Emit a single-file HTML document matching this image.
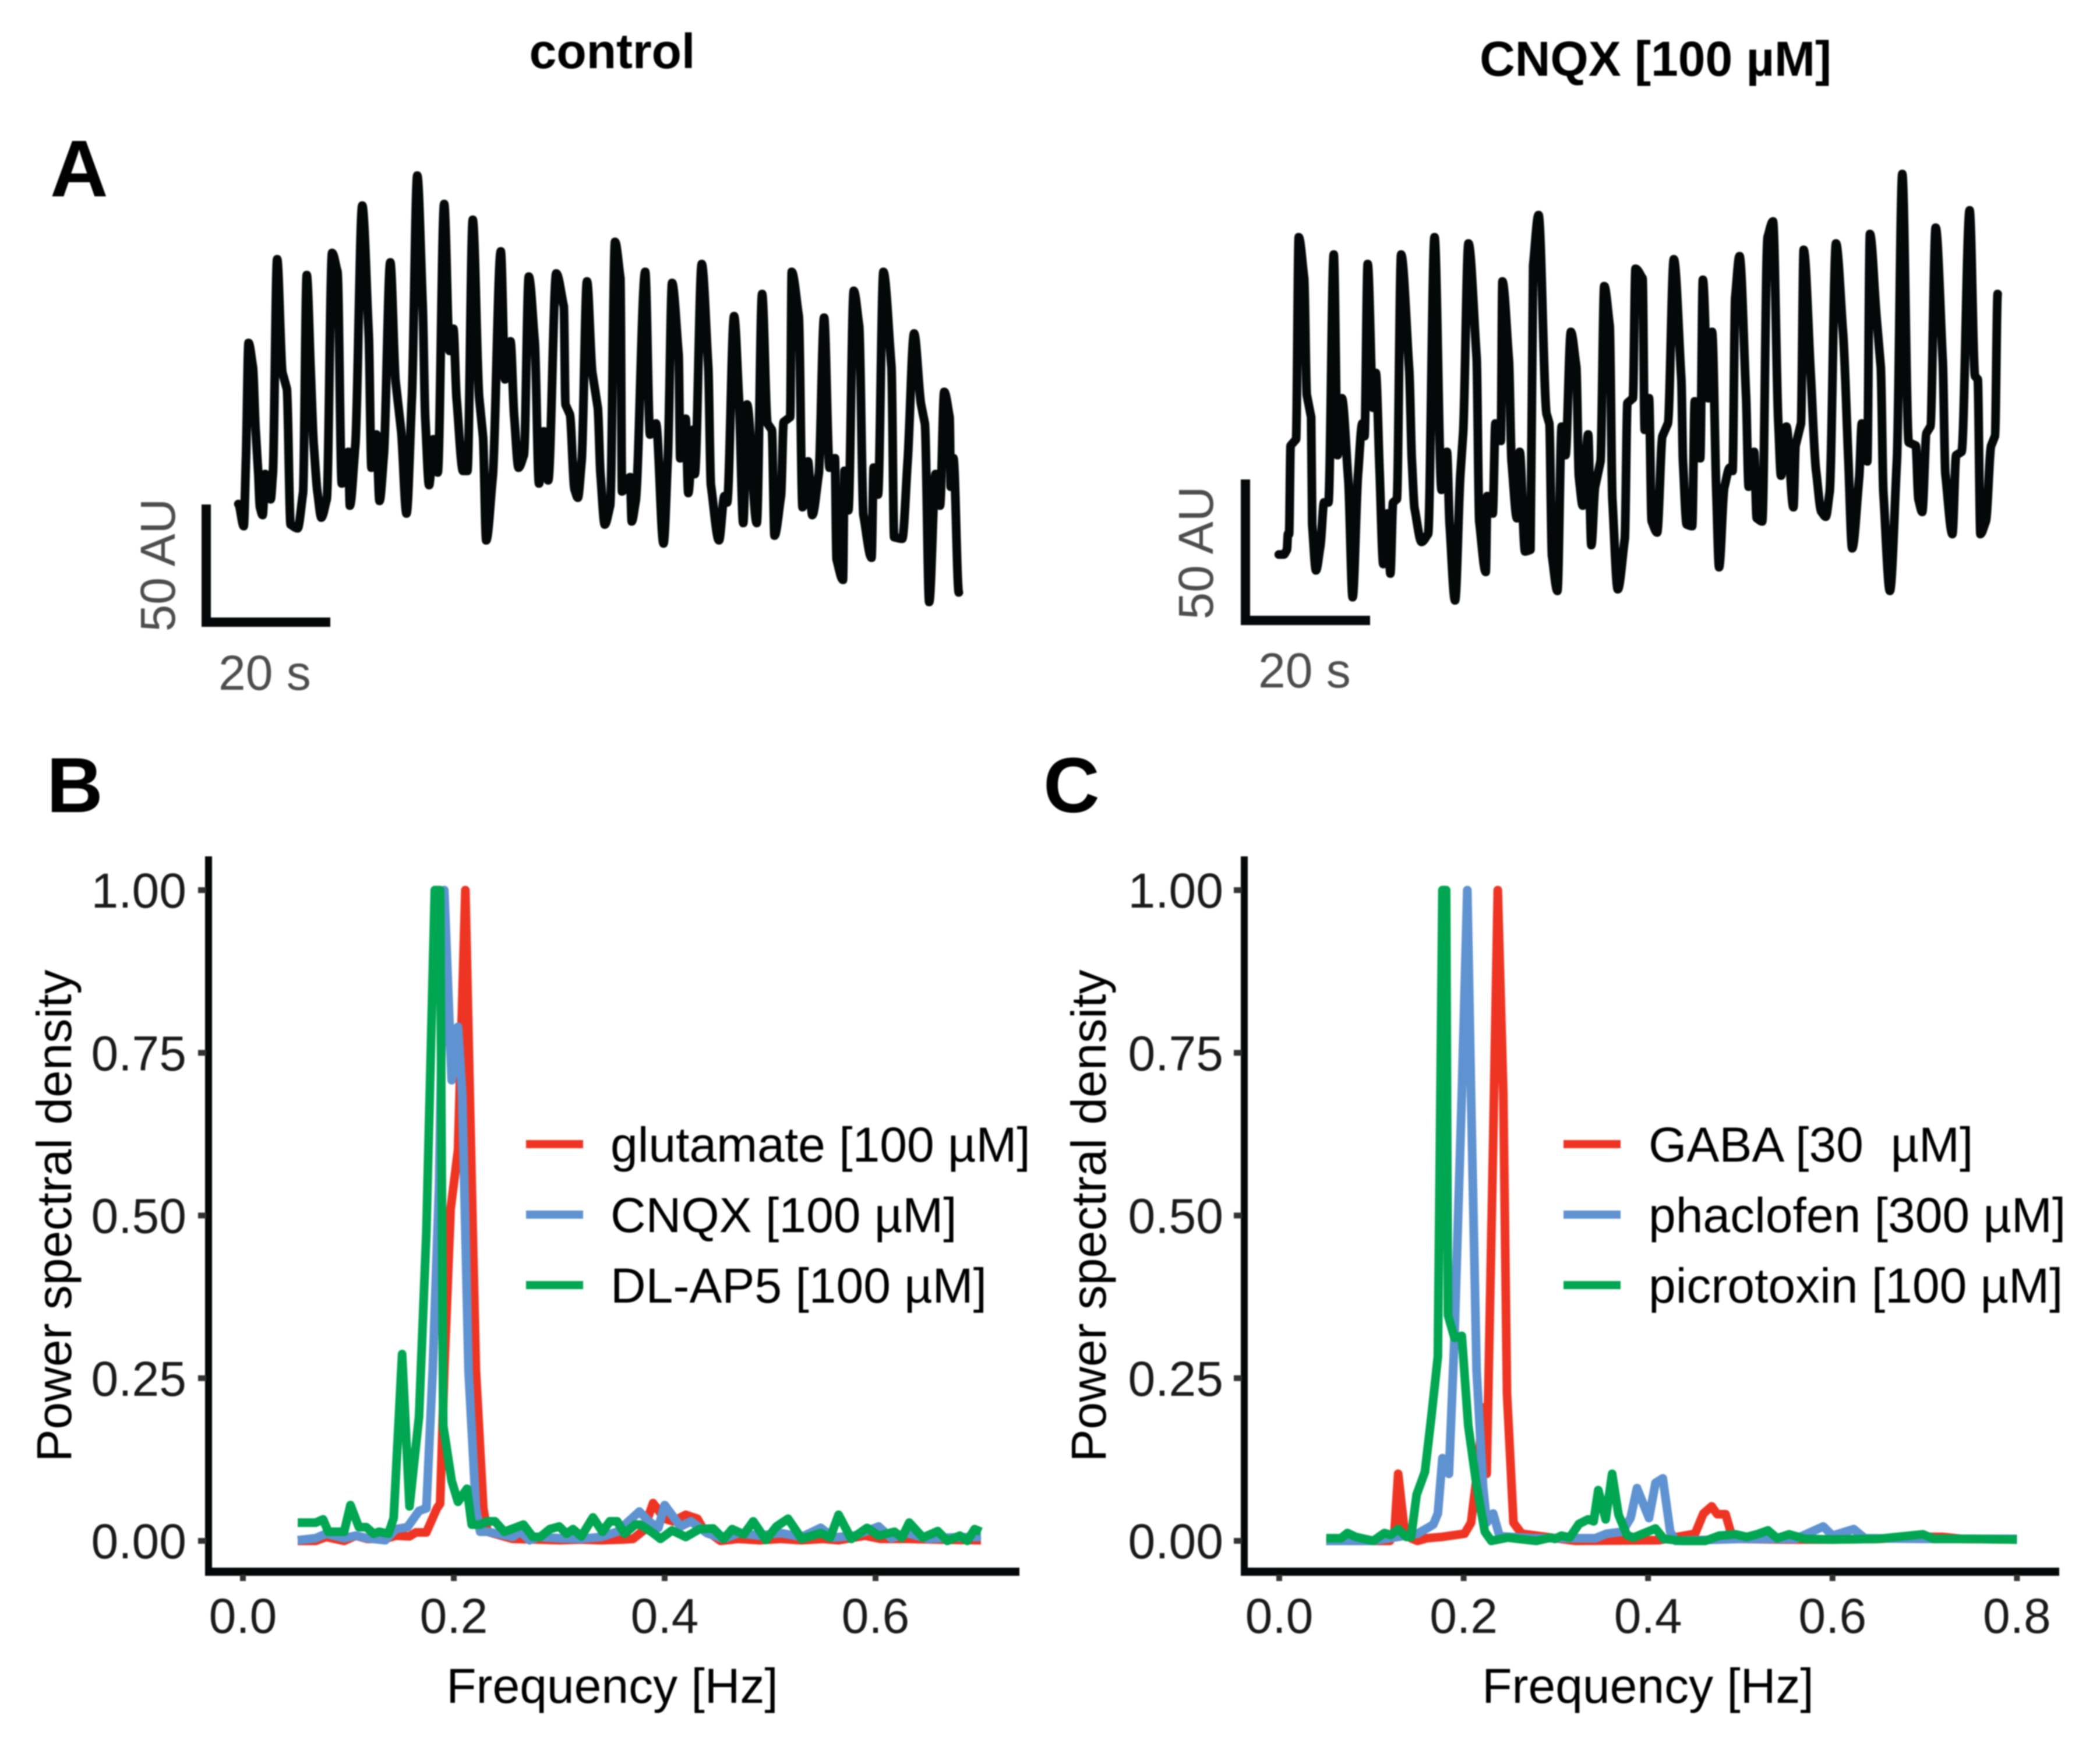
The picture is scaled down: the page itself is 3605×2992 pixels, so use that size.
<!DOCTYPE html>
<html lang="en">
<head>
<meta charset="utf-8">
<title>Power spectra of calcium oscillations</title>
<style>
html,body{margin:0;padding:0;background:#fff;}
svg{display:block;filter:blur(1.1px);font-family:"Liberation Sans",Arial,sans-serif;}
</style>
</head>
<body>
<svg id="fig" xmlns="http://www.w3.org/2000/svg" width="3605" height="2992" viewBox="0 0 3605 2992">
<rect width="3605" height="2992" fill="#fff"/>
<text x="1051" y="117" font-size="84" font-weight="700" text-anchor="middle" fill="#000">control</text>
<text x="2842" y="130" font-size="84" font-weight="700" text-anchor="middle" fill="#000">CNQX [100 µM]</text>
<text x="86" y="337" font-size="138" font-weight="700" fill="#000">A</text>
<text x="80" y="1394" font-size="134" font-weight="700" fill="#000">B</text>
<text x="1791" y="1394" font-size="134" font-weight="700" fill="#000">C</text>

<g fill="#050809">
<rect x="346" y="866" width="16" height="210"/>
<rect x="346" y="1060" width="221" height="16"/>
</g>
<text transform="translate(300,970) rotate(-90)" font-size="84" text-anchor="middle" fill="#4d4d4d">50 AU</text>
<text x="375" y="1184" font-size="84" fill="#4d4d4d">20 s</text>

<g fill="#050809">
<rect x="2130" y="823" width="16" height="250"/>
<rect x="2130" y="1057" width="222" height="16"/>
</g>
<text transform="translate(2082,949) rotate(-90)" font-size="84" text-anchor="middle" fill="#4d4d4d">50 AU</text>
<text x="2160" y="1180" font-size="84" fill="#4d4d4d">20 s</text>

<path id="control-trace" fill="none" stroke="#050809" stroke-width="15" stroke-linejoin="round" stroke-linecap="round"/>
<path id="cnqx-trace" fill="none" stroke="#050809" stroke-width="15" stroke-linejoin="round" stroke-linecap="round"/>

<g id="panel-b"></g>
<g id="panel-c"></g>
</svg>

<script>
var SVGNS = 'http://www.w3.org/2000/svg';

var controlTime = [118,128,132,137,145,150,155,158,163,168,178,182,190,200,208,215,228,238,245,252,258,265,272,282,292,302,310,315,322,325,335,348,360,365,374,380,388,400,410,420,430,440,450,460,465,472,480,488,500,510,517,523,535,543,553,565,572,578,590,605,613,623,630,638,648,657,668,676,685,693,708,722,725,733,742,748,755,765,775,785,790,798,808,817,827,830,845,848,855,873,882,893,907,915,923,935,938,948,953,962,965,978,990,995,1010,1020,1025,1038,1047,1055,1062,1080,1090,1100,1108,1113,1125,1130,1142,1145,1158,1165,1175,1183,1195,1205,1215,1225,1228,1240,1243,1250,1260,1270,1278,1293,1297,1305,1315,1330,1335,1350,1360,1372,1385,1392,1400,1412,1420,1428,1438,1440,1445,1455];
var controlIntensity = [433,363,568,943,868,668,528,423,398,528,448,528,1208,848,798,368,356,468,1158,868,618,468,390,448,1228,1168,498,508,598,428,618,1378,968,548,653,443,588,1198,818,668,403,768,1473,1068,698,493,638,533,1383,918,988,768,538,538,1333,768,648,318,518,1233,828,948,708,548,588,1153,948,498,663,508,1163,1058,748,718,478,453,568,1138,848,738,528,368,428,1263,1148,473,518,378,438,1168,653,688,308,578,1133,908,578,703,468,668,528,1193,868,493,318,458,438,1028,768,373,748,373,1098,688,668,333,458,693,708,1168,1028,423,568,398,528,1023,548,578,258,193,538,413,1108,998,398,263,548,463,1168,868,328,323,568,973,748,688,123,528,428,788,708,488,578,153];

var cnqxTime = [103,112,118,120,122,125,135,140,150,155,163,165,172,180,187,195,205,212,220,232,240,250,258,262,268,278,283,290,297,305,310,315,322,330,345,350,355,368,380,392,405,415,420,430,440,445,455,470,475,487,490,500,505,515,518,530,535,545,550,560,570,575,585,600,605,610,620,628,635,645,655,660,667,677,683,690,700,707,717,722,732,745,750,760,765,778,782,790,795,805,815,825,836,850,853,860,870,875,885,890,900,907,915,920,930,940,945,950,958,970,975,985,990,1000,1010,1020,1030,1035,1045,1058,1062,1072,1077,1090,1100,1110,1118,1125,1137,1150,1160,1167,1180,1185,1195,1200,1212,1220,1225,1237,1250,1260,1272,1285,1290,1297,1305,1312,1322,1335,1340,1353,1360,1370,1385,1395,1400,1405,1415,1425,1432,1437];
var cnqxIntensity = [273,273,288,338,338,618,638,1278,1148,778,708,368,223,298,438,438,1223,588,768,508,138,528,688,648,1193,738,848,538,243,403,213,438,448,1223,858,568,418,313,338,1278,478,598,368,128,528,658,1258,898,378,218,458,403,688,633,1138,888,568,388,598,283,288,1188,1348,718,688,268,158,678,588,978,868,518,428,653,303,488,568,1123,998,448,163,323,753,768,1178,1148,668,768,378,343,648,688,1208,828,568,368,363,758,578,1143,768,978,468,233,488,548,538,1088,1218,778,488,598,388,378,1278,1328,688,523,678,423,618,688,1238,848,538,408,393,468,1258,978,568,293,518,688,568,1288,1028,868,468,158,568,1478,628,618,448,408,658,678,1308,888,528,338,588,598,1363,838,828,338,378,618,648,1098];

var xTicksB = [0.0,0.2,0.4,0.6];
var xTicksC = [0.0,0.2,0.4,0.6,0.8];
var yTicks = [0.00,0.25,0.50,0.75,1.00];

var bLegendLabels = ['glutamate [100 µM]','CNQX [100 µM]','DL-AP5 [100 µM]'];
var cLegendLabels = ['GABA [30  µM]','phaclofen [300 µM]','picrotoxin [100 µM]'];

var bRedFreq = [.052,.069,.079,.096,.107,.118,.135,.145,.158,.164,.174,.184,.187,.191,.197,.204,.211,.218,.221,.228,.232,.256,.28,.3,.32,.34,.36,.37,.38,.389,.40,.408,.42,.431,.436,.453,.47,.49,.51,.53,.55,.565,.59,.605,.63,.66,.70];
var bRedPower = [0,0,.006,0,.008,.003,.003,.008,.007,.013,.013,.05,.057,.262,.51,.60,1,.475,.262,.05,.014,.003,.002,.001,.002,.001,.002,.003,.016,.058,.034,.03,.04,.034,.02,0,.003,.001,.003,.001,.003,.001,.008,.003,.003,.002,.001];

var bBlueFreq = [.052,.069,.079,.096,.107,.118,.135,.145,.156,.167,.174,.18,.186,.191,.198,.204,.208,.214,.221,.225,.232,.256,.263,.272,.28,.30,.32,.34,.355,.376,.385,.394,.40,.415,.425,.44,.456,.47,.49,.51,.53,.548,.56,.58,.603,.615,.63,.65,.67,.70];
var bBluePower = [.001,.004,.011,.004,.008,.004,.001,.018,.021,.046,.05,.262,.545,1,.708,.79,.687,.262,.05,.014,.014,.006,.014,.001,.006,.004,.003,.006,.014,.045,.03,.02,.055,.022,.03,.012,.003,.012,.008,.012,.006,.02,.005,.008,.022,.004,.012,.003,.005,.006];

var bGreenFreq = [.052,.069,.076,.081,.096,.102,.110,.117,.124,.129,.138,.143,.151,.158,.167,.174,.182,.187,.190,.198,.204,.2125,.217,.225,.232,.239,.248,.266,.275,.282,.291,.300,.307,.313,.321,.332,.341,.348,.355,.362,.372,.377,.389,.396,.407,.42,.433,.446,.456,.464,.475,.484,.496,.506,.517,.53,.548,.557,.565,.577,.592,.603,.618,.625,.632,.645,.659,.668,.68,.687,.694,.70];
var bGreenPower = [.028,.028,.033,.014,.014,.055,.021,.021,.011,.014,.011,.035,.287,.053,.191,.474,1,1,.177,.092,.06,.08,.025,.025,.03,.03,.014,.025,.006,.006,.018,.022,.011,.018,.007,.036,.014,.03,.03,.011,.025,.025,.012,.003,.016,.006,.018,.019,.003,.018,.01,.03,.0015,.022,.034,.003,.012,.005,.04,.003,.02,.008,.014,.005,.028,.005,.015,0,.008,0,.018,.014];

var cRedFreq = [.051,.10,.12,.125,.129,.136,.143,.15,.16,.176,.201,.208,.216,.221,.225,.232,.237,.243,.247,.254,.263,.321,.412,.451,.46,.469,.475,.484,.491,.50,.55,.60,.65,.70,.72,.74,.8];
var cRedPower = [0,0,0,.014,.103,.014,.004,0,.004,.006,.011,.028,.12,.205,.103,.616,1,.687,.227,.028,.011,0,.001,.011,.042,.053,.041,.041,.007,.003,.002,.002,.003,.006,.006,.003,.002];

var cBlueFreq = [.051,.102,.15,.167,.172,.177,.184,.19,.198,.204,.208,.214,.221,.225,.232,.239,.277,.343,.355,.372,.381,.388,.401,.408,.416,.424,.43,.50,.56,.59,.60,.623,.635,.70,.8];
var cBluePower = [0,0,.011,.025,.042,.127,.103,.312,.685,1,.685,.262,.085,.028,.042,.007,.004,.004,.011,.014,.035,.081,.035,.089,.096,.014,0,.003,.003,.022,.008,.018,.004,.003,.003];

var cGreenFreq = [.051,.067,.074,.083,.102,.114,.121,.129,.138,.143,.149,.158,.165,.172,.177,.181,.183,.19,.198,.205,.214,.223,.23,.248,.259,.279,.294,.299,.306,.315,.325,.335,.341,.346,.354,.361,.368,.377,.384,.408,.417,.437,.462,.477,.495,.507,.518,.53,.54,.553,.57,.60,.65,.698,.71,.75,.80];
var cGreenPower = [.004,.004,.012,.006,0,.012,.009,.018,.006,.006,.071,.106,.191,.283,1,1,.347,.312,.315,.177,.085,.014,0,.005,.003,0,.005,.003,.008,.005,.026,.033,.03,.078,.033,.103,.04,.009,.005,.019,.003,0,0,.008,.01,.006,.01,.016,.004,.01,.003,.002,.003,.01,.003,.003,.002];

var traceXScale = 1.081;
var traceYScale = 1.845;

function tracePath(times, intensities, originX) {
  var xs = times.map(function (t) { return originX + t / traceXScale; });
  var ys = intensities.map(function (v) { return 250 + (1568 - v) / traceYScale; });
  var n = xs.length;
  var slopes = [];
  for (var i = 0; i < n; i++) {
    if (i === 0 || i === n - 1) { slopes.push(0); continue; }
    var s0 = (ys[i] - ys[i - 1]) / (xs[i] - xs[i - 1]);
    var s1 = (ys[i + 1] - ys[i]) / (xs[i + 1] - xs[i]);
    if (s0 * s1 <= 0) { slopes.push(0); }
    else { slopes.push(Math.sign(s0) * Math.min(Math.abs(s0), Math.abs(s1), (Math.abs(s0) + Math.abs(s1)) / 2)); }
  }
  var d = 'M' + xs[0].toFixed(1) + ' ' + ys[0].toFixed(1);
  for (var j = 0; j < n - 1; j++) {
    var h = (xs[j + 1] - xs[j]) / 3;
    d += 'C' + (xs[j] + h).toFixed(1) + ' ' + (ys[j] + slopes[j] * h).toFixed(1) + ' ' +
         (xs[j + 1] - h).toFixed(1) + ' ' + (ys[j + 1] - slopes[j + 1] * h).toFixed(1) + ' ' +
         xs[j + 1].toFixed(1) + ' ' + ys[j + 1].toFixed(1);
  }
  return d;
}
document.getElementById('control-trace').setAttribute('d', tracePath(controlTime, controlIntensity, 300));
document.getElementById('cnqx-trace').setAttribute('d', tracePath(cnqxTime, cnqxIntensity, 2100));

function mk(parent, tag, attrs, text) {
  var el = document.createElementNS(SVGNS, tag);
  for (var k in attrs) { el.setAttribute(k, attrs[k]); }
  if (text !== undefined) { el.textContent = text; }
  parent.appendChild(el);
  return el;
}

function linePath(freqs, powers, sx, sy) {
  var d = '';
  for (var i = 0; i < freqs.length; i++) {
    d += (i ? 'L' : 'M') + sx(freqs[i]).toFixed(1) + ' ' + sy(powers[i]).toFixed(1);
  }
  return d;
}

var COLORS = ['#EE3524', '#5F92D0', '#00A651'];

function drawPanel(opts) {
  var g = document.getElementById(opts.id);
  var sx = function (f) { return opts.x0 + opts.xPerHz * f; };
  var sy = function (p) { return 2645 - 1117 * p; };

  var ya = mk(g, 'rect', {x: opts.axisX - 6, y: 1470, width: 12, height: 1234, fill: '#050809'});
  
  
  var xa = mk(g, 'rect', {x: opts.axisX - 6, y: 2691, width: opts.axisEnd - opts.axisX + 6, height: 14, fill: '#050809'});
  
  

  yTicks.forEach(function (v) {
    var t = mk(g, 'rect', {x: opts.axisX - 18, y: sy(v) - 5, width: 14, height: 10, fill: '#333'});
    
    
    var l = mk(g, 'text', {x: opts.axisX - opts.yLabelGap, y: sy(v) + 30, 'font-size': 84, 'text-anchor': 'end', fill: '#1a1a1a'}, v.toFixed(2));
    
    
  });
  opts.xTicks.forEach(function (v) {
    var t = mk(g, 'rect', {x: sx(v) - 5, y: 2703, width: 10, height: 11, fill: '#333'});
    
    
    var l = mk(g, 'text', {x: sx(v), y: 2803, 'font-size': 84, 'text-anchor': 'middle', fill: '#1a1a1a'}, v.toFixed(1));
    
    
  });

  var xt = mk(g, 'text', {x: opts.xTitleX, y: 2923, 'font-size': 84, 'text-anchor': 'middle', fill: '#000'}, 'Frequency [Hz]');
  
  
  var yt = mk(g, 'text', {transform: 'translate(' + opts.yTitleX + ',2087) rotate(-90)', 'font-size': 84, 'text-anchor': 'middle', fill: '#000'}, 'Power spectral density');
  
  

  opts.series.forEach(function (s, i) {
    var p = mk(g, 'path', {d: linePath(s[0], s[1], sx, sy), fill: 'none', stroke: COLORS[i], 'stroke-width': 15, 'stroke-linejoin': 'round'});
    
    
  });

  opts.legend.forEach(function (label, i) {
    var ky = 1964 + i * 121;
    var k = mk(g, 'rect', {x: opts.keyX, y: ky - 7, width: opts.keyW, height: 14, fill: COLORS[i]});
    
    
    var t = mk(g, 'text', {x: opts.legendX, y: ky + 30, 'font-size': 84, fill: '#000', 'xml:space': 'preserve', style: 'white-space:pre'}, label);
    
    
  });
}

drawPanel({
  id: 'panel-b', x0: 417, xPerHz: 1810, axisX: 358, axisEnd: 1750, yLabelGap: 38,
  xTicks: xTicksB, xTitleX: 1051, yTitleX: 122,
  series: [[bRedFreq, bRedPower], [bBlueFreq, bBluePower], [bGreenFreq, bGreenPower]],
  legend: bLegendLabels, keyX: 903, keyW: 98, legendX: 1048
});
drawPanel({
  id: 'panel-c', x0: 2196, xPerHz: 1583, axisX: 2136, axisEnd: 3535, yLabelGap: 36,
  xTicks: xTicksC, xTitleX: 2829, yTitleX: 1898,
  series: [[cRedFreq, cRedPower], [cBlueFreq, cBluePower], [cGreenFreq, cGreenPower]],
  legend: cLegendLabels, keyX: 2684, keyW: 98, legendX: 2830
});
</script>
</body>
</html>
